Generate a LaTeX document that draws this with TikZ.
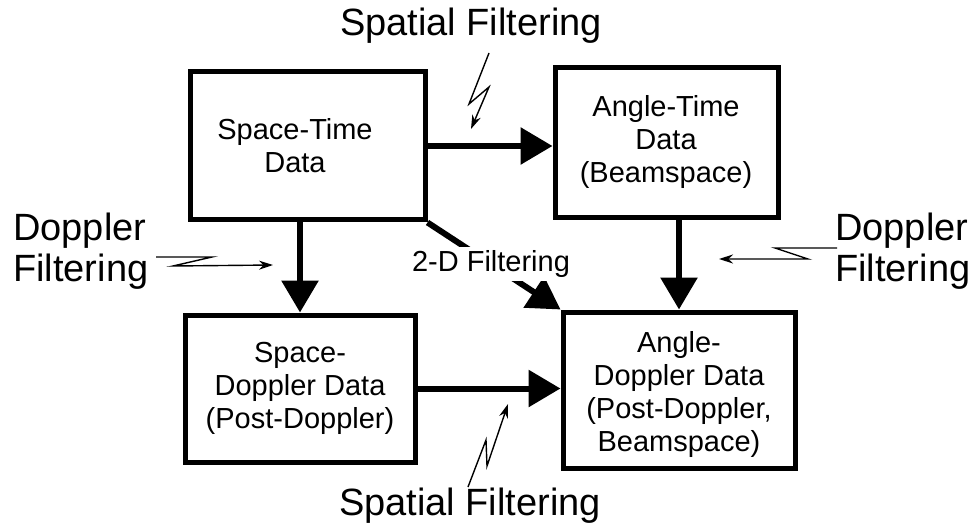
\documentclass[tikz,border=0pt]{standalone}
\usepackage{fontspec}
\setmainfont{Liberation Sans}
\usetikzlibrary{arrows.meta}
\begin{document}
\begin{tikzpicture}[x=1pt,y=-1pt,
  box/.style={draw,line width=5pt,rectangle,inner sep=0pt},
  boxtext/.style={align=center,inner sep=0pt,font=\fontsize{29}{33}\selectfont},
  bigtext/.style={inner sep=0pt,font=\fontsize{38}{41}\selectfont},
  thick arrow/.style={line width=6pt,-{Triangle[length=32pt,width=36pt]}},
  zap/.style={line width=1.4pt,-{Stealth[length=14pt,width=9pt]}}]
\useasboundingbox (0,0) rectangle (976,529);
% boxes
\node[box,minimum width=235pt,minimum height=148pt] (A) at (307.5,146) {};
\node[box,minimum width=223pt,minimum height=150pt] (B) at (666.5,143) {};
\node[box,minimum width=230pt,minimum height=147pt] (C) at (300,388.5) {};
\node[box,minimum width=232pt,minimum height=156pt] (D) at (679,390) {};
% box texts
\node[boxtext] (tA) at (295,146) {Space-Time\\Data};
\node[boxtext] (tB) at (666,142) {Angle-Time\\Data\\(Beamspace)};
\node[boxtext] (tC) at (300,388) {Space-\\Doppler Data\\(Post-Doppler)};
\node[boxtext] (tD) at (679,394) {Angle-\\Doppler Data\\(Post-Doppler,\\Beamspace)};
% thick arrows
\draw[thick arrow] (A.east) -- (A.east -| B.west);
\draw[thick arrow] (C.north |- A.south) -- (C.north);
\draw[thick arrow] (D.north |- B.south) -- (D.north);
\draw[thick arrow] (C.east) -- (C.east -| D.west);
\draw[thick arrow] (A.south east) -- (D.north west);
\node[boxtext,fill=white,inner sep=3pt] (diag) at (491,264) {2-D Filtering};
% labels
\node[bigtext] (sfTop) at (471,26) {Spatial Filtering};
\node[bigtext] (sfBot) at (470,506) {Spatial Filtering};
\node[bigtext,align=left,anchor=west] (dfL) at (13,251) {Doppler\\Filtering};
\node[bigtext,align=left,anchor=west] (dfR) at (835,251) {Doppler\\Filtering};
% lightning arrows
\coordinate (z1a) at (489,53);
\coordinate (z1b) at (469,104);
\coordinate (z1c) at (489,87);
\coordinate (z1d) at (471,129);
\draw[zap] (z1a) -- (z1b) -- (z1c) -- (z1d);
\coordinate (z2a) at (156,257);
\coordinate (z2b) at (212,257);
\coordinate (z2c) at (173,266);
\coordinate (z2d) at (273,265);
\draw[zap] (z2a) -- (z2b) -- (z2c) -- (z2d);
\coordinate (z3a) at (837,248);
\coordinate (z3b) at (775,248);
\coordinate (z3c) at (808,259);
\coordinate (z3d) at (719,259);
\draw[zap] (z3a) -- (z3b) -- (z3c) -- (z3d);
\coordinate (z4a) at (468,487);
\coordinate (z4b) at (486,440);
\coordinate (z4c) at (487,466);
\coordinate (z4d) at (508,404);
\draw[zap] (z4a) -- (z4b) -- (z4c) -- (z4d);
\end{tikzpicture}
\end{document}
